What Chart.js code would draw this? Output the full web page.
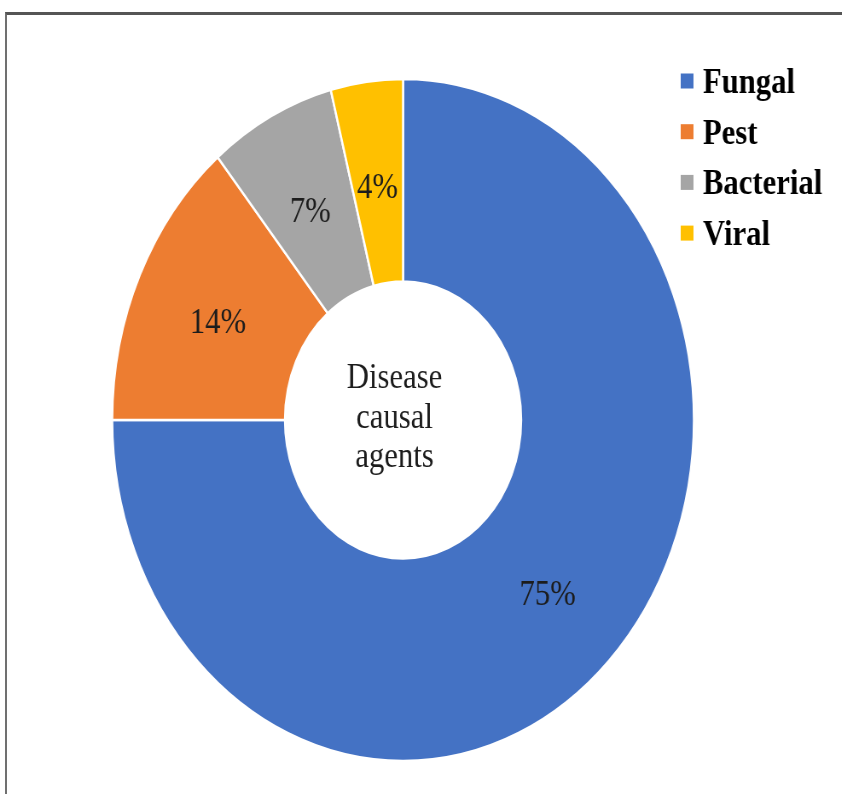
<!DOCTYPE html>
<html>
<head>
<meta charset="utf-8">
<title>Disease causal agents</title>
<script src="https://cdn.jsdelivr.net/npm/chart.js@4.4.0/dist/chart.umd.min.js"></script>
<style>
  html, body { margin: 0; padding: 0; background: #fff; overflow: hidden; }
  #frame { position: absolute; left: 5px; top: 12px; width: 900px; height: 800px;
           border-top: 3px solid #555; border-left: 2px solid #707070; }
  /* the figure is drawn wide and squeezed horizontally */
  #wrap { position: absolute; left: 0; top: 0; width: 987px; height: 794px;
          transform: scaleX(0.853); transform-origin: 0 0; }
</style>
</head>
<body>
<div id="frame"></div>
<div id="wrap"><canvas id="chartAgents" width="987" height="794"></canvas></div>
<script>
// === DATA ===
const agents = ['Fungal', 'Pest', 'Bacterial', 'Viral'];
const shares = [75, 14, 7, 4];
const colors = ['#4472C4', '#ED7D31', '#A5A5A5', '#FFC000'];
const centerTitle = ['Disease', 'causal', 'agents'];

const SERIF = '"Liberation Serif", "Times New Roman", serif';

// === PERCENT LABELS ON EACH SLICE ===
const sliceLabels = {
  id: 'sliceLabels',
  afterDatasetsDraw(chart) {
    const ctx = chart.ctx;
    const meta = chart.getDatasetMeta(0);
    ctx.save();
    ctx.font = '36px ' + SERIF;
    ctx.fillStyle = '#1c1c1c';
    ctx.textAlign = 'center';
    ctx.textBaseline = 'middle';
    meta.data.forEach((arc, i) => {
      const p = arc.getCenterPoint();
      ctx.fillText(shares[i] + '%', p.x, p.y + 6);
    });
    ctx.restore();
  }
};

// === TEXT IN THE HOLE ===
const holeText = {
  id: 'holeText',
  afterDraw(chart) {
    const ctx = chart.ctx;
    const arc = chart.getDatasetMeta(0).data[0];
    ctx.save();
    ctx.font = '36px ' + SERIF;
    ctx.fillStyle = '#1c1c1c';
    ctx.textAlign = 'center';
    ctx.textBaseline = 'alphabetic';
    centerTitle.forEach((line, i) => {
      ctx.fillText(line, arc.x - 10, arc.y - 32 + i * 39.5);
    });
    ctx.restore();
  }
};

// === LEGEND (top right) ===
const sideLegend = {
  id: 'sideLegend',
  afterDraw(chart) {
    const ctx = chart.ctx;
    ctx.save();
    ctx.font = 'bold 36px ' + SERIF;
    ctx.textBaseline = 'alphabetic';
    chart.data.labels.forEach((label, i) => {
      const cy = 81 + i * 50.7;
      ctx.fillStyle = chart.data.datasets[0].backgroundColor[i];
      ctx.fillRect(798, cy - 7.5, 15, 15);
      ctx.fillStyle = '#000';
      ctx.fillText(label, 824, cy + 12);
    });
    ctx.restore();
  }
};

// === CHART ===
new Chart(document.getElementById('chartAgents'), {
  type: 'doughnut',
  data: {
    labels: agents,
    datasets: [{
      data: shares,
      backgroundColor: colors,
      borderColor: '#fff',
      borderWidth: 2.5
    }]
  },
  options: {
    responsive: false,
    animation: false,
    radius: 341,
    cutout: '40.6%',
    layout: { padding: { top: 79, bottom: 33, left: 0, right: 42 } },
    plugins: {
      legend: { display: false },
      tooltip: { enabled: false }
    }
  },
  plugins: [sliceLabels, holeText, sideLegend]
});
</script>
</body>
</html>
